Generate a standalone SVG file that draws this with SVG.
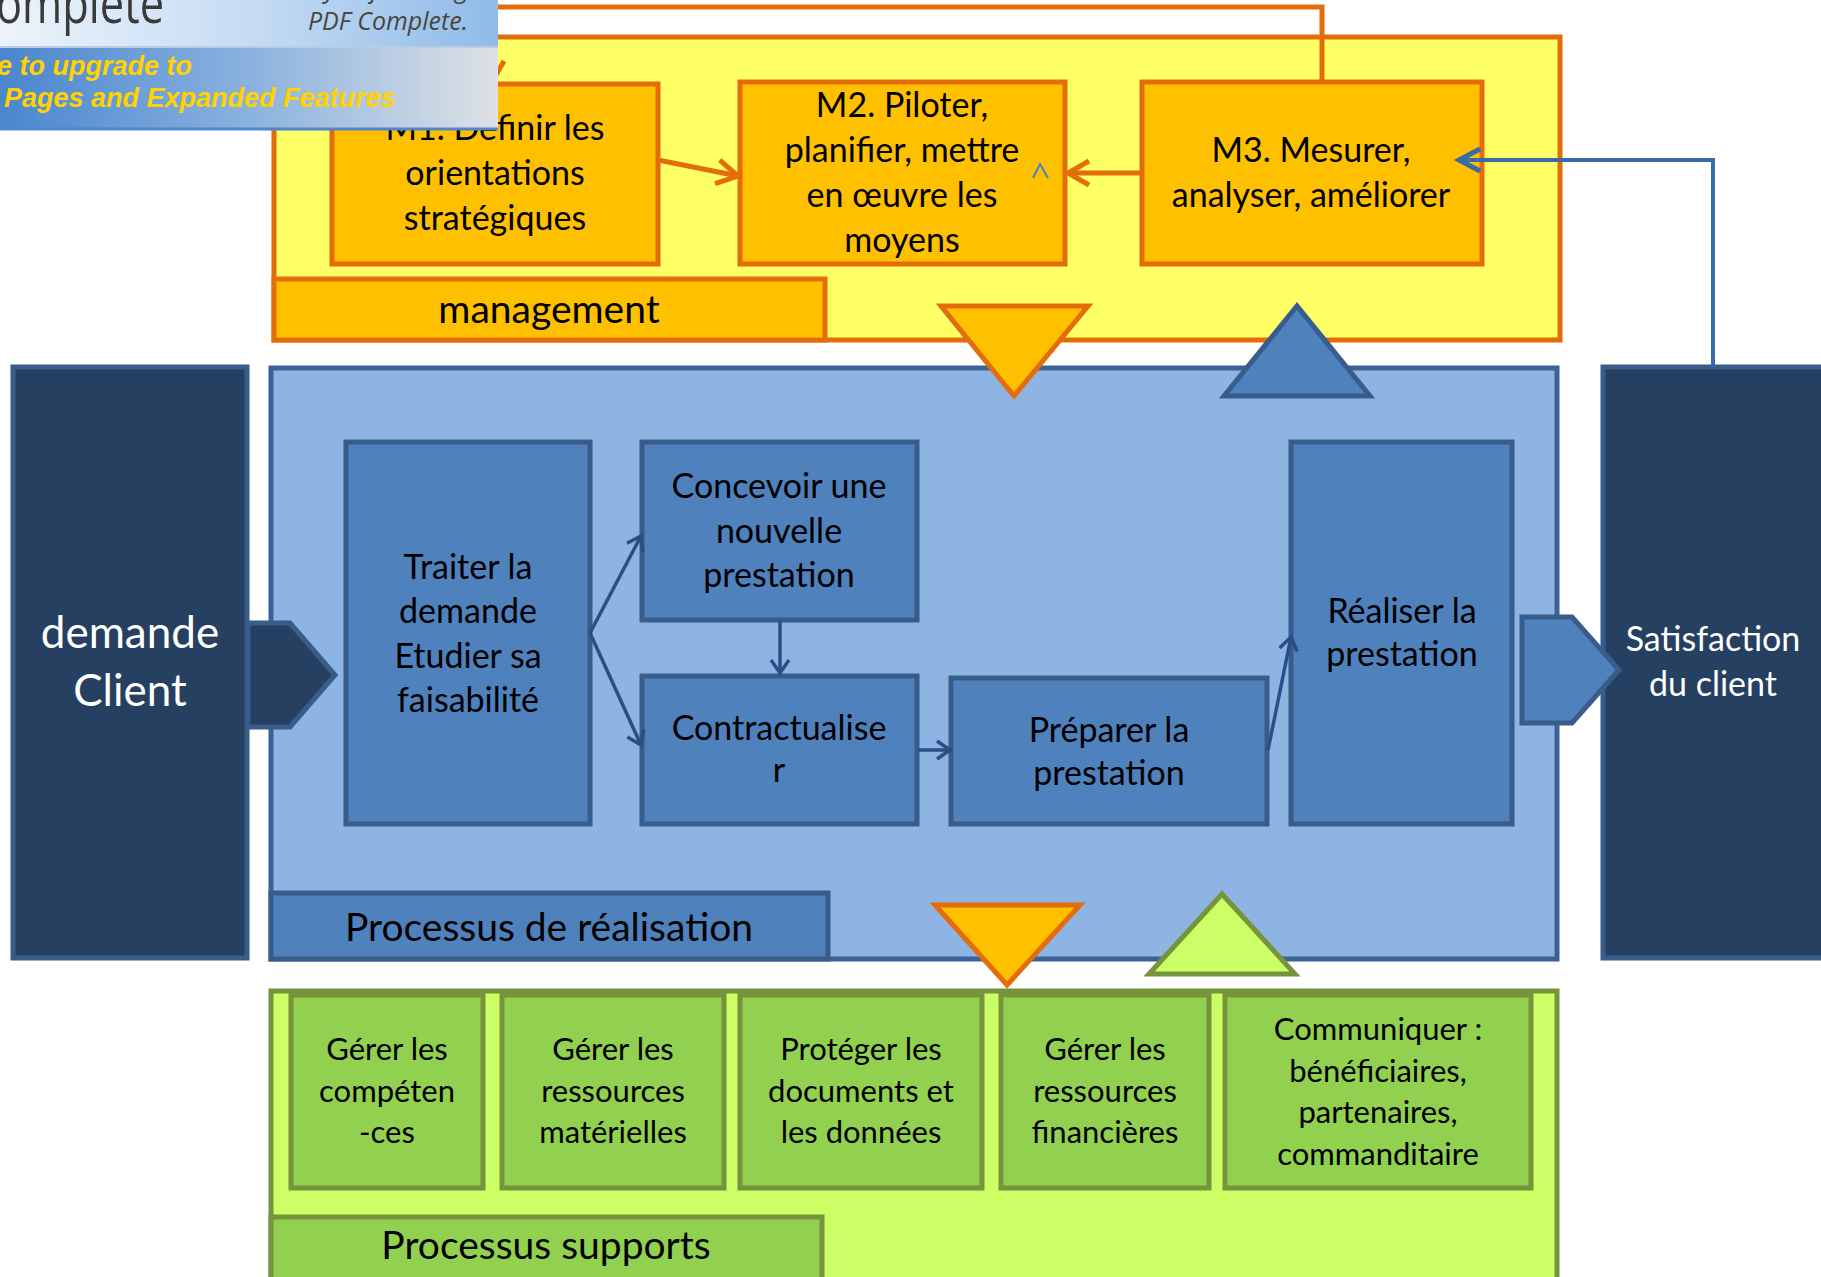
<svg xmlns="http://www.w3.org/2000/svg" width="1821" height="1277" viewBox="0 0 1821 1277">
<defs>
<style>
.t{font-family:Lato,"Noto Sans",sans-serif;font-size:34px;text-anchor:middle;fill:#000}
.lbl{font-size:39px}
.sp{font-size:31px}
.w{fill:#fff}
.or{fill:#FFC000;stroke:#E46C0A;stroke-width:5}
.bl{fill:#4F81BD;stroke:#385D8A;stroke-width:5}
.nv{fill:#254061;stroke:#385D8A;stroke-width:5}
.gr{fill:#92D050;stroke:#77933C;stroke-width:5}
.cb{fill:none;stroke:#2A4F86;stroke-width:3.5}
.co{fill:none;stroke:#E46C0A;stroke-width:5}
.wy{font-family:"Liberation Sans",sans-serif;font-style:italic;font-weight:bold;font-size:27px;fill:#FFD200}
.wi{font-family:"Open Sans",sans-serif;font-style:italic;font-size:25px;fill:#4A4640}
</style>
<marker id="ao" markerUnits="userSpaceOnUse" markerWidth="34" markerHeight="34" viewBox="0 0 34 34" refX="28" refY="17" orient="auto"><path d="M7,5 L28,17 L7,29" fill="none" stroke="#E46C0A" stroke-width="5"/></marker>
<marker id="ab" markerUnits="userSpaceOnUse" markerWidth="24" markerHeight="24" viewBox="0 0 24 24" refX="19" refY="12" orient="auto"><path d="M6,3 L19,12 L6,21" fill="none" stroke="#2A4F86" stroke-width="3.5"/></marker>
<marker id="af" markerUnits="userSpaceOnUse" markerWidth="34" markerHeight="34" viewBox="0 0 34 34" refX="27" refY="17" orient="auto"><path d="M6,6 L27,17 L6,28" fill="none" stroke="#3B6BA5" stroke-width="5"/></marker>
<linearGradient id="wg1" x1="0" y1="0" x2="1" y2="0"><stop offset="0" stop-color="#EDF3FB"/><stop offset="0.5" stop-color="#C6DCF3"/><stop offset="1" stop-color="#8FBBE9"/></linearGradient>
<linearGradient id="wg2" x1="0" y1="0" x2="1" y2="0"><stop offset="0" stop-color="#4A86CF"/><stop offset="0.5" stop-color="#8AB2DE"/><stop offset="1" stop-color="#DEE1E5"/></linearGradient>
<clipPath id="wc"><rect x="0" y="0" width="498" height="131"/></clipPath>
</defs>

<g id="management">
<rect x="274" y="37" width="1286" height="303" fill="#FFFF66" stroke="#E46C0A" stroke-width="5"/>
<rect class="or" x="274" y="279" width="551" height="61"/>
<text class="t lbl" x="549" y="323">management</text>
</g>

<g id="realisation">
<rect x="271" y="368" width="1286" height="591" fill="#8EB4E3" stroke="#3B6296" stroke-width="5"/>
<rect class="bl" x="271" y="893" width="557" height="66"/>
<text class="t lbl" x="549" y="941">Processus de réalisation</text>
</g>

<g id="supports">
<rect x="271" y="991" width="1286" height="290" fill="#CCFF66" stroke="#77933C" stroke-width="5"/>
<rect class="gr" x="271" y="1217" width="551" height="64"/>
<text class="t lbl" x="546" y="1259">Processus supports</text>
</g>

<g id="M1"><rect class="or" x="332" y="84" width="326" height="180"/>
<text class="t" x="495" y="140">M1. Définir les</text><text class="t" x="495" y="185">orientations</text><text class="t" x="495" y="230">stratégiques</text></g>
<g id="M2"><rect class="or" x="740" y="82" width="325" height="182"/>
<text class="t" x="902" y="117">M2. Piloter,</text><text class="t" x="902" y="162">planifier, mettre</text><text class="t" x="902" y="207">en œuvre les</text><text class="t" x="902" y="252">moyens</text>
<polyline points="1033,178 1040,164 1048,178" fill="none" stroke="#4A80C8" stroke-width="2"/></g>
<g id="M3"><rect class="or" x="1142" y="82" width="340" height="182"/>
<text class="t" x="1311" y="162">M3. Mesurer,</text><text class="t" x="1311" y="207">analyser, améliorer</text></g>

<g id="tri-top-down"><polygon class="or" points="941,306 1088,306 1014,396"/></g>
<g id="tri-top-up"><polygon class="bl" points="1224,396 1370,396 1297,306"/></g>

<g id="demande"><rect class="nv" x="13" y="367" width="234" height="591"/>
<polygon class="nv" points="248,623 290,623 335,675 290,727 248,727"/>
<text class="t w" x="130" y="648" style="font-size:44px">demande</text><text class="t w" x="130" y="706" style="font-size:44px">Client</text></g>

<g id="satisfaction"><rect class="nv" x="1603" y="367" width="240" height="591"/>
<polygon class="bl" points="1522,617 1572,617 1619,670 1572,723 1522,723"/>
<text class="t w" x="1713" y="651">Satisfaction</text><text class="t w" x="1713" y="696">du client</text></g>

<g id="traiter"><rect class="bl" x="346" y="442" width="244" height="382"/>
<text class="t" x="468" y="579">Traiter la</text><text class="t" x="468" y="623">demande</text><text class="t" x="468" y="668">Etudier sa</text><text class="t" x="468" y="712">faisabilité</text></g>
<g id="concevoir"><rect class="bl" x="642" y="442" width="275" height="178"/>
<text class="t" x="779" y="498">Concevoir une</text><text class="t" x="779" y="543">nouvelle</text><text class="t" x="779" y="587">prestation</text></g>
<g id="contractualiser"><rect class="bl" x="642" y="676" width="275" height="148"/>
<text class="t" x="779" y="740">Contractualise</text><text class="t" x="779" y="782">r</text></g>
<g id="preparer"><rect class="bl" x="951" y="678" width="316" height="146"/>
<text class="t" x="1109" y="742">Préparer la</text><text class="t" x="1109" y="785">prestation</text></g>
<g id="realiser"><rect class="bl" x="1291" y="442" width="221" height="382"/>
<text class="t" x="1402" y="623">Réaliser la</text><text class="t" x="1402" y="666">prestation</text></g>

<g id="tri-bot-down"><polygon class="or" points="935,905 1080,905 1007,985"/></g>
<g id="tri-bot-up"><polygon points="1149,974 1295,974 1222,894" fill="#CCFF66" stroke="#77933C" stroke-width="5"/></g>

<g id="S1"><rect class="gr" x="291" y="995" width="192" height="193"/>
<text class="t sp" x="387" y="1060">Gérer les</text><text class="t sp" x="387" y="1102">compéten</text><text class="t sp" x="387" y="1143">-ces</text></g>
<g id="S2"><rect class="gr" x="502" y="995" width="222" height="193"/>
<text class="t sp" x="613" y="1060">Gérer les</text><text class="t sp" x="613" y="1102">ressources</text><text class="t sp" x="613" y="1143">matérielles</text></g>
<g id="S3"><rect class="gr" x="740" y="995" width="242" height="193"/>
<text class="t sp" x="861" y="1060">Protéger les</text><text class="t sp" x="861" y="1102">documents et</text><text class="t sp" x="861" y="1143">les données</text></g>
<g id="S4"><rect class="gr" x="1001" y="995" width="208" height="193"/>
<text class="t sp" x="1105" y="1060">Gérer les</text><text class="t sp" x="1105" y="1102">ressources</text><text class="t sp" x="1105" y="1143">financières</text></g>
<g id="S5"><rect class="gr" x="1225" y="995" width="306" height="193"/>
<text class="t sp" x="1378" y="1040">Communiquer :</text><text class="t sp" x="1378" y="1082">bénéficiaires,</text><text class="t sp" x="1378" y="1123">partenaires,</text><text class="t sp" x="1378" y="1165">commanditaire</text></g>

<g id="connectors">
<line class="co" x1="658" y1="160" x2="738" y2="176" marker-end="url(#ao)"/>
<line class="co" x1="1142" y1="173" x2="1068" y2="173" marker-end="url(#ao)"/>
<polyline class="co" points="1322,82 1322,7 492,7 492,82" marker-end="url(#ao)"/>
<polyline points="1713,367 1713,160 1459,160" fill="none" stroke="#3B6BA5" stroke-width="4" marker-end="url(#af)"/>
<polyline class="cb" points="590,633 641,536" marker-end="url(#ab)"/>
<polyline class="cb" points="590,633 641,745" marker-end="url(#ab)"/>
<line class="cb" x1="780" y1="621" x2="780" y2="673" marker-end="url(#ab)"/>
<line class="cb" x1="918" y1="750" x2="950" y2="750" marker-end="url(#ab)"/>
<line class="cb" x1="1268" y1="750" x2="1291" y2="637" marker-end="url(#ab)"/>
</g>

<g id="watermark" clip-path="url(#wc)">
<rect x="0" y="0" width="498" height="47" fill="url(#wg1)"/>
<rect x="0" y="47" width="498" height="82" fill="url(#wg2)"/>
<line x1="0" y1="47" x2="498" y2="47" stroke="#B8CCE4" stroke-width="2"/>
<line x1="0" y1="129" x2="498" y2="129" stroke="#4F86CC" stroke-width="3"/>
<text x="-4" y="23" textLength="168" lengthAdjust="spacingAndGlyphs" style="font-family:'Open Sans',sans-serif;font-size:54px;fill:#3A3A3A">omplete</text>
<text class="wi" x="468" y="-2" text-anchor="end">Thank you for using</text>
<text class="wi" x="468" y="30" text-anchor="end">PDF Complete.</text>
<text class="wy" x="-3" y="75">e to upgrade to</text>
<text class="wy" x="4" y="107">Pages and Expanded Features</text>
</g>
</svg>
